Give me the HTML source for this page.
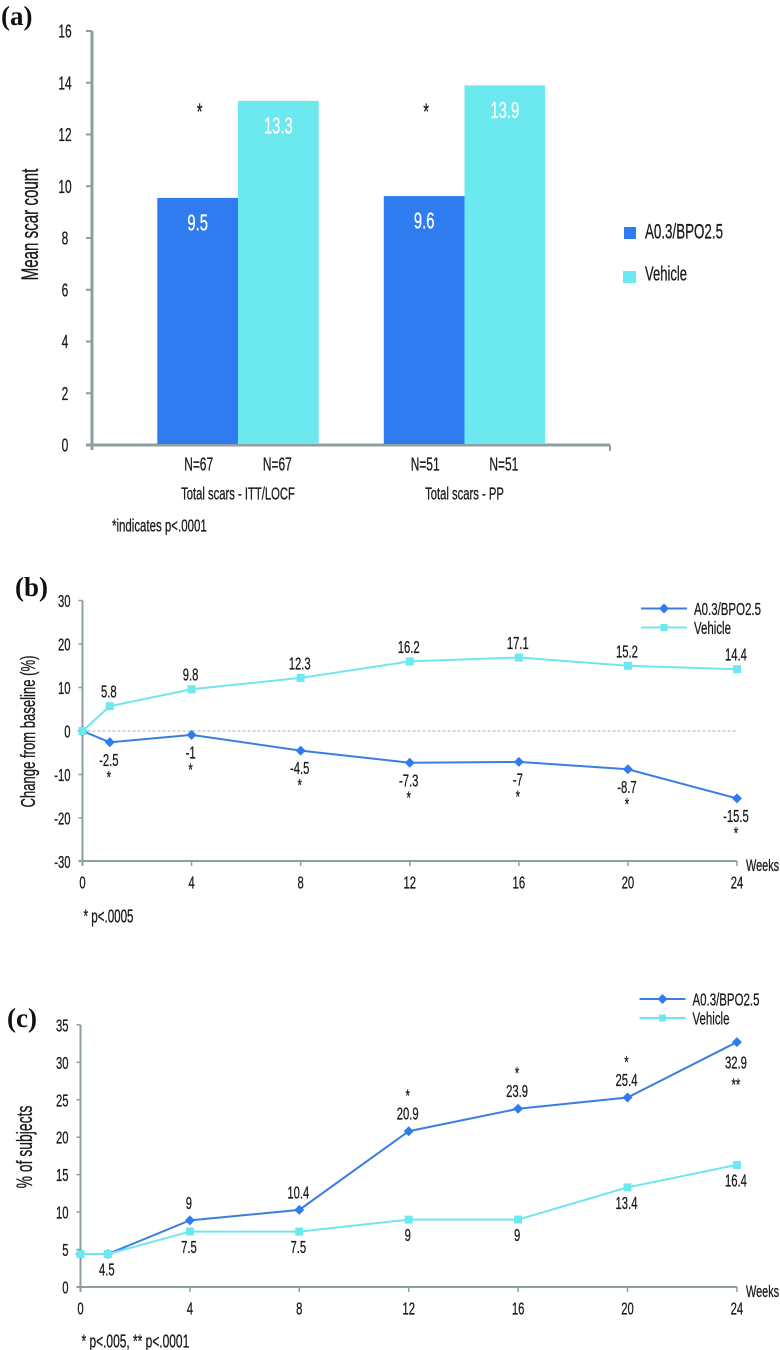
<!DOCTYPE html>
<html lang="en">
<head>
<meta charset="utf-8">
<title>Scar count charts</title>
<style>
html,body{margin:0;padding:0;background:#fff;width:780px;height:1350px;overflow:hidden}
svg{display:block}
text{font-family:"Liberation Sans",sans-serif;fill:#1a1a1a}
.panel{font-family:"Liberation Serif",serif;font-weight:bold;font-size:27px;fill:#111}
</style>
</head>
<body>
<svg id="root" xmlns="http://www.w3.org/2000/svg" width="780" height="1350" viewBox="0 0 780 1350">
<text class="panel" x="1" y="25">(a)</text>
<text class="panel" x="15" y="596">(b)</text>
<text class="panel" x="7" y="1027">(c)</text>
</svg>
<script>
// Panel (a)
const barTicks = [0, 2, 4, 6, 8, 10, 12, 14, 16];
const barGroups = ['Total scars - ITT/LOCF', 'Total scars - PP'];
const barActive = [9.55, 9.62];
const barVehicle = [13.3, 13.9];
const barActiveLabels = ['9.5', '9.6'];
const barVehicleLabels = ['13.3', '13.9'];
const barNActive = ['N=67', 'N=51'];
const barNVehicle = ['N=67', 'N=51'];
const barStars = ['*', '*'];

// Panel (b)
const weeks = [0, 1, 4, 8, 12, 16, 20, 24];
const weekTicks = [0, 4, 8, 12, 16, 20, 24];
const changeTicks = [-30, -20, -10, 0, 10, 20, 30];
const changeActive = [0, -2.6, -0.9, -4.5, -7.3, -7.1, -8.8, -15.5];
const changeVehicle = [0, 5.7, 9.6, 12.2, 16, 16.9, 15, 14.2];
const changeActiveLabels = ['', '-2.5', '-1', '-4.5', '-7.3', '-7', '-8.7', '-15.5'];
const changeVehicleLabels = ['', '5.8', '9.8', '12.3', '16.2', '17.1', '15.2', '14.4'];
const changeStars = ['', '*', '*', '*', '*', '*', '*', '*'];

// Panel (c)
const pctTicks = [0, 5, 10, 15, 20, 25, 30, 35];
const pctActive = [4.4, 4.4, 8.9, 10.3, 20.8, 23.8, 25.3, 32.7];
const pctVehicle = [4.4, 4.4, 7.4, 7.4, 9, 9, 13.3, 16.3];
const pctActiveLabels = ['', '', '9', '10.4', '20.9', '23.9', '25.4', '32.9'];
const pctVehicleLabels = ['', '4.5', '7.5', '7.5', '9', '9', '13.4', '16.4'];
const pctStars = ['', '', '', '', '*', '*', '*', '**'];

const NS = 'http://www.w3.org/2000/svg';
const root = document.getElementById('root');
const BLUE = '#2f7cf1', CYAN = '#6ce8ef', LINE_BLUE = '#3a7fdf', LINE_CYAN = '#72e4ec', AXIS = '#8f9ea0';

function shape(tag, attrs, name) {
  const el = document.createElementNS(NS, tag);
  for (const k in attrs) el.setAttribute(k, attrs[k]);
  
  
  root.appendChild(el);
  return el;
}
function label(x, y, str, name, size, anchor, fill, rot) {
  const el = document.createElementNS(NS, 'text');
  const col = fill || '#1a1a1a';
  el.textContent = str;
  el.setAttribute('font-size', (size || 16) * 1.1);
  el.setAttribute('text-anchor', anchor || 'middle');
  el.setAttribute('style', 'fill:' + col + ';stroke:' + col + ';stroke-width:0.3px');
  el.setAttribute('transform', 'translate(' + x + ',' + (rot ? y : y + 0.5) + ')' + (rot ? ' rotate(-90)' : '') + ' scale(0.64,1)');
  
  
  root.appendChild(el);
  return el;
}
function seg(x1, y1, x2, y2, w, name, color) {
  return shape('line', {x1: x1, y1: y1, x2: x2, y2: y2, stroke: color || AXIS, 'stroke-width': w}, name);
}
function diamond(x, y, r, name) {
  return shape('polygon', {points: (x - r) + ',' + y + ' ' + x + ',' + (y - r) + ' ' + (x + r) + ',' + y + ' ' + x + ',' + (y + r), fill: BLUE}, name);
}
function square(x, y, r, name) {
  return shape('rect', {x: x - r, y: y - r, width: 2 * r, height: 2 * r, fill: CYAN}, name);
}

/* ---------- Panel (a) ---------- */
const aY = v => 445 - v * 25.875;
const aGroup = i => 238 + i * 226.5;
const aBarW = 80.7;
seg(92, 31, 92, 450, 3, 'a-y-axis');
seg(86, 445, 610, 445, 3, 'a-x-axis');
seg(610, 445, 610, 451, 2, 'a-x-axis-end-tick');
barTicks.forEach(t => {
  seg(86, aY(t), 92, aY(t), 2, 'a-y-tick');
  label(65, aY(t) + 6, String(t), 'a-y-tick-label', 17);
});
barGroups.forEach((g, i) => {
  const c = aGroup(i);
  shape('rect', {x: c - aBarW, y: aY(barActive[i]), width: aBarW, height: aY(0) - aY(barActive[i]) - 1, fill: BLUE}, 'a-bar-active');
  shape('rect', {x: c, y: aY(barVehicle[i]), width: aBarW, height: aY(0) - aY(barVehicle[i]) - 1, fill: CYAN}, 'a-bar-vehicle');
  label(c - aBarW / 2, aY(barActive[i]) + 32, barActiveLabels[i], 'a-bar-active-value', 21, 'middle', '#fff');
  label(c + aBarW / 2, aY(barVehicle[i]) + 32, barVehicleLabels[i], 'a-bar-vehicle-value', 21, 'middle', '#fff');
  label(c - aBarW / 2 + 2, 119, barStars[i], 'a-significance-star', 21);
  label(c - aBarW / 2 + 1, 470, barNActive[i], 'a-n-active', 17);
  label(c + aBarW / 2 - 1, 470, barNVehicle[i], 'a-n-vehicle', 17);
  label(c, 499, g, 'a-group-label', 16);
});
label(38, 224.5, 'Mean scar count', 'a-y-axis-title', 21.5, 'middle', null, true);
label(112, 531, '*indicates p<.0001', 'a-footnote', 16.3, 'start');
shape('rect', {x: 624, y: 227, width: 12, height: 12, fill: BLUE}, 'a-legend-swatch-active');
label(645, 238, 'A0.3/BPO2.5', 'a-legend-label-active', 19, 'start');
shape('rect', {x: 623, y: 271, width: 13, height: 12, fill: CYAN}, 'a-legend-swatch-vehicle');
label(645, 280, 'Vehicle', 'a-legend-label-vehicle', 18.5, 'start');

/* ---------- Line panels ---------- */
function linePanel(o) {
  const x = w => o.x0 + w * o.xs;
  const y = v => o.y0 - v * o.ys;
  const p = o.id + '-';
  seg(o.x0, y(o.yTicks[o.yTicks.length - 1]), o.x0, o.axisY + 5, 2, p + 'y-axis');
  seg(o.x0 - 4, o.axisY, x(24), o.axisY, 2, p + 'x-axis');
  o.yTicks.forEach(t => {
    seg(o.x0 - 4, y(t), o.x0, y(t), 1.5, p + 'y-tick');
    label(o.x0 - 12, y(t) + 6, String(t), p + 'y-tick-label', 16, 'end');
  });
  weekTicks.forEach(w => {
    seg(x(w), o.axisY, x(w), o.axisY + 5, 1.5, p + 'x-tick');
    label(x(w), o.axisY + 27, String(w), p + 'x-tick-label', 16);
  });
  label(746, o.axisY + 9.5, 'Weeks', p + 'x-axis-unit', 15.5, 'start');
  if (o.zero) {
    shape('line', {x1: o.x0, y1: y(0), x2: x(24), y2: y(0), stroke: '#aab2b2', 'stroke-width': 1, 'stroke-dasharray': '3 2'}, p + 'zero-line');
  }
  const pts = arr => arr.map((v, i) => x(weeks[i]) + ',' + y(v)).join(' ');
  shape('polyline', {points: pts(o.active), fill: 'none', stroke: LINE_BLUE, 'stroke-width': 2}, p + 'line-active');
  o.active.forEach((v, i) => diamond(x(weeks[i]), y(v), 5, p + 'point-active'));
  shape('polyline', {points: pts(o.vehicle), fill: 'none', stroke: LINE_CYAN, 'stroke-width': 2}, p + 'line-vehicle');
  o.vehicle.forEach((v, i) => square(x(weeks[i]), y(v), 4, p + 'point-vehicle'));

  o.activeLabels.forEach((s, i) => {
    if (!s) return;
    const below = o.activeBelow || i === o.active.length - 1;
    const yy = y(o.active[i]) + (below ? o.belowGap : -12);
    label(x(weeks[i]) - 1, yy, s, p + 'value-active', 16);
    if (o.stars[i]) {
      label(x(weeks[i]) - 1, below ? yy + o.starGap : yy - 18, o.stars[i], p + 'significance-star', 16);
    }
  });
  o.vehicleLabels.forEach((s, i) => {
    if (!s) return;
    const yy = y(o.vehicle[i]) + (o.vehicleBelow ? 21 : -9);
    label(x(weeks[i]) - 1, yy, s, p + 'value-vehicle', 16);
  });

  seg(o.legX, o.legY, o.legX + 46, o.legY, 2, p + 'legend-line-active', LINE_BLUE);
  diamond(o.legX + 23, o.legY, 5, p + 'legend-marker-active');
  seg(o.legX, o.legY + 19, o.legX + 46, o.legY + 19, 2, p + 'legend-line-vehicle', LINE_CYAN);
  square(o.legX + 23, o.legY + 19, 3.5, p + 'legend-marker-vehicle');
  label(o.legX + 53, o.legY + 6, 'A0.3/BPO2.5', p + 'legend-label-active', 16.3, 'start');
  label(o.legX + 53, o.legY + 25, 'Vehicle', p + 'legend-label-vehicle', 16.3, 'start');
  label(o.titleX, o.titleY, o.title, p + 'y-axis-title', o.titleSize, 'middle', null, true);
  label(o.x0 + 1, o.noteY, o.note, p + 'footnote', o.noteSize, 'start');
}

linePanel({
  id: 'b', x0: 82.5, xs: 27.27, y0: 731, ys: 4.35, axisY: 861, yTicks: changeTicks, zero: true,
  active: changeActive, vehicle: changeVehicle, activeLabels: changeActiveLabels, vehicleLabels: changeVehicleLabels,
  stars: changeStars, activeBelow: true, vehicleBelow: false, belowGap: 23, starGap: 17,
  legX: 641, legY: 608.5, titleX: 35, titleY: 731.5, titleSize: 18.6, title: 'Change from baseline (%)', noteY: 922, noteSize: 16.5, note: '* p<.0005'
});
linePanel({
  id: 'c', x0: 80.5, xs: 27.35, y0: 1287, ys: 7.49, axisY: 1287, yTicks: pctTicks, zero: false,
  active: pctActive, vehicle: pctVehicle, activeLabels: pctActiveLabels, vehicleLabels: pctVehicleLabels,
  stars: pctStars, activeBelow: false, vehicleBelow: true, belowGap: 26, starGap: 22,
  legX: 639.5, legY: 999, titleX: 32, titleY: 1147, titleSize: 19.8, title: '% of subjects', noteY: 1347, noteSize: 17, note: '* p<.005, ** p<.0001'
});
</script>
</body>
</html>
